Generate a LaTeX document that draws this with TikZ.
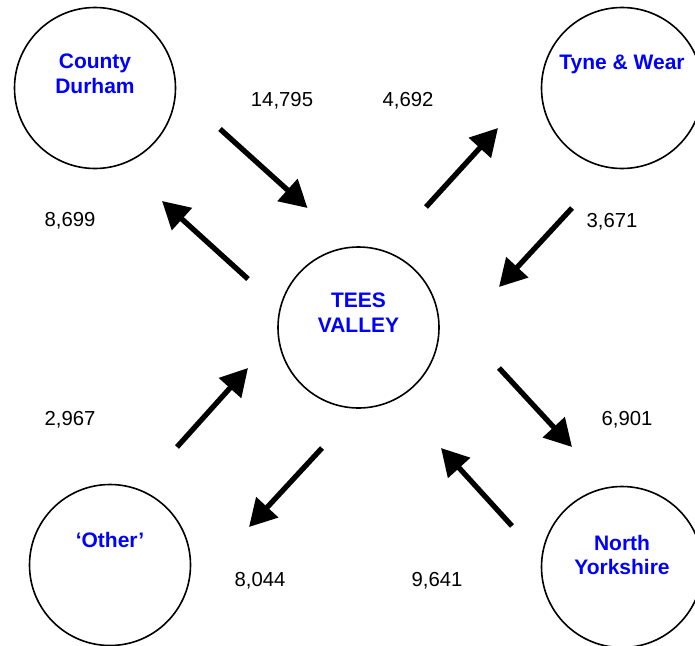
\documentclass[tikz,border=0pt]{standalone}
\usepackage{fontspec}
\setmainfont{Liberation Sans}
\usetikzlibrary{arrows.meta}
\definecolor{labelblue}{RGB}{0,0,255}
\begin{document}
\begin{tikzpicture}[x=1pt,y=-1pt,
  region/.style={circle,draw,line width=1.6pt,minimum size=161pt,inner sep=0pt},
  regtext/.style={text=labelblue,font=\fontsize{21}{24.5}\selectfont\bfseries,align=center},
  flow/.style={line width=5.3pt,-{Triangle[length=27pt,width=29pt]}},
  num/.style={font=\fontsize{20.3}{24}\selectfont}]
\clip (0,0) rectangle (695,645);
\useasboundingbox (0,0) rectangle (695,645);
% regions
\node[region] (cd) at (95,88) {};
\node[region] (tw) at (622,88) {};
\node[region] (tv) at (358.5,327.5) {};
\node[region] (ot) at (110,565) {};
\node[region] (ny) at (622,567) {};
\node[regtext] (cdt) at (95,74) {County\\Durham};
\node[regtext] (twt) at (622,64) {Tyne \& Wear};
\node[regtext] (tvt) at (358.5,312.5) {TEES\\VALLEY};
\node[regtext] (ott) at (110,540) {‘Other’};
\node[regtext] (nyt) at (622,555) {North\\Yorkshire};
% arrow end points
\coordinate (a1s) at (220,129); \coordinate (a1e) at (307.5,208);
\coordinate (a2s) at (248,279); \coordinate (a2e) at (162,201);
\coordinate (a3s) at (426,207); \coordinate (a3e) at (498,128);
\coordinate (a4s) at (572,208); \coordinate (a4e) at (499,287);
\coordinate (a5s) at (499,368); \coordinate (a5e) at (572,447);
\coordinate (a6s) at (512,526); \coordinate (a6e) at (441,448);
\coordinate (a7s) at (177,447); \coordinate (a7e) at (248,368);
\coordinate (a8s) at (322,448); \coordinate (a8e) at (249,527);
\draw[flow] (a1s) -- (a1e);
\draw[flow] (a2s) -- (a2e);
\draw[flow] (a3s) -- (a3e);
\draw[flow] (a4s) -- (a4e);
\draw[flow] (a5s) -- (a5e);
\draw[flow] (a6s) -- (a6e);
\draw[flow] (a7s) -- (a7e);
\draw[flow] (a8s) -- (a8e);
% numbers
\node[num] (n1) at (282,101) {14,795};
\node[num] (n2) at (70,221) {8,699};
\node[num] (n3) at (408,101) {4,692};
\node[num] (n4) at (612,222) {3,671};
\node[num] (n5) at (627,420) {6,901};
\node[num] (n6) at (437,581) {9,641};
\node[num] (n7) at (70,420) {2,967};
\node[num] (n8) at (260,581) {8,044};
\end{tikzpicture}
\end{document}
